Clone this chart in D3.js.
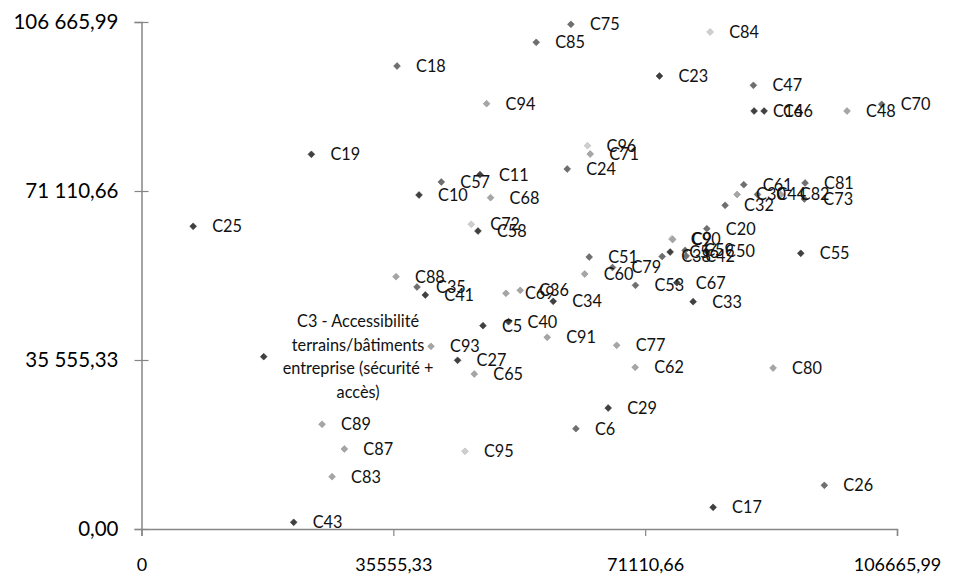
<!DOCTYPE html>
<html><head><meta charset="utf-8">
<script src="https://cdn.jsdelivr.net/npm/d3@7"></script>
<style>body{margin:0;background:#fff} svg text{font-family:Lato,"Open Sans",sans-serif}</style>
</head><body><svg id="c" width="956" height="577"></svg>
<script>
const labels = ["C75","C85","C84","C18","C23","C47","C16","C46","C94","C48","C70","C96","C71","C24","C19","C11","C57","C10","C68","C25","C72","C58","C61","C30","C44","C82","C73","C81","C32","C20","C90","C9","C56","C38","C59","C42","C50","C55","C51","C60","C79","C53","C67","C33","C88","C35","C41","C69","C36","C34","C5","C40","C91","C77","C93","C3 - Accessibilité\nterrains/bâtiments\nentreprise (sécurité +\naccès)","C27","C65","C62","C80","C29","C6","C95","C26","C17","C89","C87","C83","C43"];
const xValues = [60628,55731,80282,36077,73129,86391,86490,87901,48720,99611,104506,62970,63351,60105,23986,47788,42328,39181,49284,7294,46561,47506,85036,84091,86969,90257,93587,93685,82398,79816,74878,74991,74638,73509,76754,76895,79717,93079,63209,62575,66497,69743,75583,77883,35936,38899,40070,51456,53474,58130,48212,51823,57284,67089,40875,17256,44628,46984,69700,89171,65890,61333,45672,96409,80705,25495,28642,26906,21488];
const yValues = [106182,102395,104562,97409,95305,93348,87941,87941,89477,87941,89351,80641,78895,75739,78832,74540,73004,70269,69701,63684,64105,62695,72436,70374,70374,70374,69427,72794,68102,63179,61075,60907,58277,57330,58635,57435,58487,58003,57225,53648,55016,51271,51818,47821,53080,50913,49230,49588,50219,47905,42771,43613,40331,38648,38438,36250,35492,32610,34019,33872,25457,21102,16347,9194,4565,22027,16831,11003,1410];
const tones = ["m","m","vl","m","d","m","d","d","l","l","m","vl","l","m","d","d","m","d","l","d","vl","d","m","l","m","l","m","m","m","m","vl","l","d","m","m","m","m","d","m","l","m","m","d","d","l","m","d","l","l","d","d","d","l","l","l","d","d","l","l","l","d","m","vl","m","d","l","l","l","d"];
const xTickValues = [0, 35555.33, 71110.66, 106665.99];
const xTickLabels = ["0","35555,33","71110,66","106665,99"];
const yTickValues = [0, 35555.33, 71110.66, 106665.99];
const yTickLabels = ["0,00","35 555,33","71 110,66","106 665,99"];

const svg = d3.select("#c");
const L = 141.5, R = 897, T = 22, B = 529;
const x = d3.scaleLinear().domain([0, 106665.99]).range([L, R]);
const y = d3.scaleLinear().domain([0, 106665.99]).range([B, T]);
const toneColor = d3.scaleOrdinal().domain(["d","m","l","vl"]).range(["#404040","#6f6f6f","#a6a6a6","#cfcfcf"]);
const axisColor = "#868686";

// X axis
const gx = svg.append("g").attr("transform", `translate(0,${B})`)
  .call(d3.axisBottom(x).tickValues(xTickValues).tickFormat((d,i)=>xTickLabels[i]).tickSizeOuter(0).tickSize(7).tickPadding(22));
gx.select(".domain").attr("stroke", axisColor).attr("stroke-width", 1.5);
gx.selectAll(".tick line").attr("stroke", axisColor).attr("stroke-width", 1.2);
gx.selectAll(".tick text").attr("font-size", 18).attr("fill", "#000");

// Y axis
const gy = svg.append("g").attr("transform", `translate(${L},0)`)
  .call(d3.axisLeft(y).tickValues(yTickValues).tickFormat((d,i)=>yTickLabels[i]).tickSizeOuter(0).tickSize(7).tickPadding(16));
gy.select(".domain").attr("stroke", axisColor).attr("stroke-width", 1.5);
gy.selectAll(".tick line").attr("stroke", axisColor).attr("stroke-width", 1.2).attr("x1", 7);
gy.selectAll(".tick text").attr("font-size", 20.5).attr("fill", "#000");

const data = labels.map((l,i)=>({label:l, x:xValues[i], y:yValues[i], tone:tones[i]}));
const r = 3.4;
const diamond = `M0,${-r}L${r},0L0,${r}L${-r},0Z`;

svg.append("g").selectAll("path").data(data).join("path")
  .attr("d", diamond)
  .attr("transform", d=>`translate(${x(d.x)},${y(d.y)})`)
  .attr("fill", d=>toneColor(d.tone))
  .attr("stroke", d=>d3.color(toneColor(d.tone)).darker(0.4))
  .attr("stroke-width", 0.6);

const lg = svg.append("g");
data.forEach(d=>{
  const lines = d.label.split("\n");
  const px = x(d.x) + 19, py = y(d.y);
  const t = lg.append("text").attr("font-size", 16.3).attr("fill", "#111");
  if (lines.length === 1) {
    t.attr("x", px).attr("y", py).attr("dy", "0.36em").text(lines[0]);
  } else {
    const lh = 23.5;
    lines.forEach((ln,k)=>{
      t.append("tspan").attr("x", 0).attr("y", py + (k - (lines.length-1)/2)*lh).attr("dy","0.36em").attr("text-anchor","middle").text(ln);
    });
    let maxW = 0;
    t.selectAll("tspan").each(function(){ maxW = Math.max(maxW, this.getComputedTextLength()); });
    t.selectAll("tspan").attr("x", px + maxW/2);
  }
});
</script></body></html>
